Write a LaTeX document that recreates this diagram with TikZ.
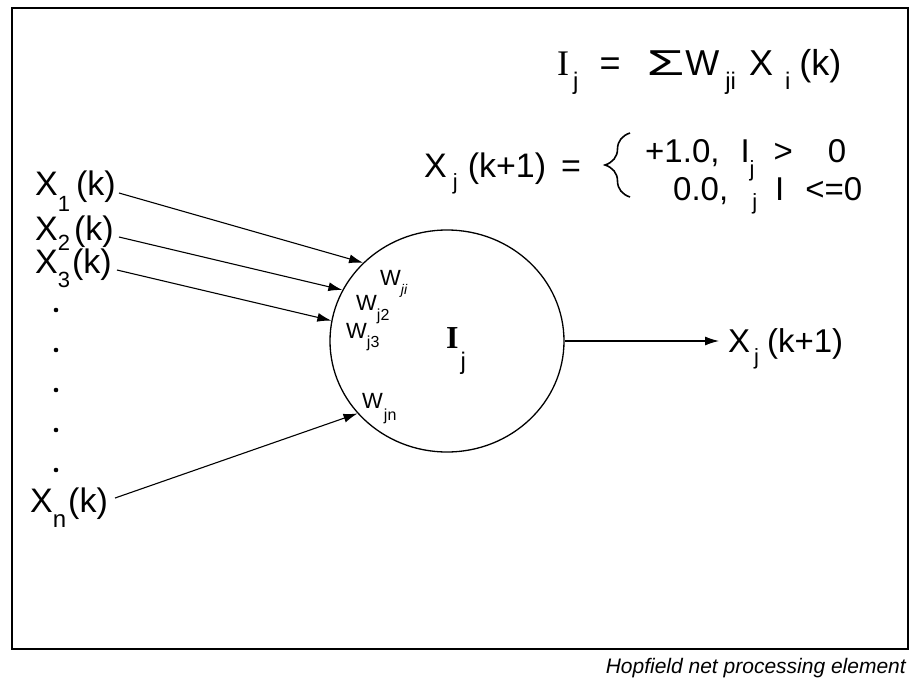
\documentclass[tikz,border=0pt]{standalone}
\usepackage{fontspec}
\setmainfont{Liberation Sans}
\newfontfamily\serifbold{Liberation Serif}
\usetikzlibrary{shapes.geometric,arrows.meta,decorations.pathreplacing}

%lowered subscript: [size]{drop}{text}
\newcommand\dn[3][24]{\raisebox{-#2}{\fontsize{#1}{#1}\selectfont #3}}

\tikzstyle{input} = [anchor=base west, inner sep=0pt, font=\fontsize{34}{36}\selectfont]
\tikzstyle{formula} = [anchor=base west, inner sep=0pt, font=\fontsize{33}{36}\selectfont]
\tikzstyle{weight} = [anchor=base west, inner sep=0pt, font=\fontsize{22}{24}\selectfont]
\tikzstyle{neuron} = [ellipse, draw, line width=1.3pt, minimum width=234pt, minimum height=222pt, inner sep=0pt]
\tikzstyle{arrow} = [line width=1.1pt,-{Latex[length=14pt,width=9pt]},draw]

\begin{document}
\begin{tikzpicture}[x=1pt,y=-1pt]
\useasboundingbox (0,0) rectangle (916,688);

	%Frame and caption
	\draw[line width=1.8pt] (12,8) rectangle (908,649);
	\node[anchor=base east, inner sep=0pt, font=\fontsize{21}{23}\selectfont\itshape](caption) at (906,673) {Hopfield net processing element};

	%Processing element
	\node[neuron](pe) at (447,341) {};
	\node[anchor=base west, inner sep=0pt, font=\fontsize{32}{34}\selectfont](Ij) at (446,348) {{\serifbold\bfseries I}\hspace{2pt}\dn{21pt}{j}};

	%Inputs
	\node[input](x1) at (35,195) {X\dn[22]{16pt}{1}\hspace{6pt}(k)};
	\node[input](x2) at (35,240) {X\dn[22]{10pt}{2}\hspace{4pt}(k)};
	\node[input](x3) at (35,273) {X\dn[22]{14pt}{3}\hspace{2pt}(k)};
	\node[input](xn) at (30,512) {X\dn{15pt}{n}\hspace{2pt}(k)};
	\foreach \y in {310,350,...,470}
		\fill (56,\y) circle (2.3pt);

	%Weights
	\node[weight](wji) at (380,285) {W\hspace{0pt}\dn[14]{9pt}{\itshape ji}};
	\node[weight](wj2) at (356,310) {W\hspace{0pt}\dn[16]{10pt}{j2}};
	\node[weight](wj3) at (346,338) {W\hspace{0pt}\dn[16]{9pt}{j3}};
	\node[weight](wjn) at (362,408) {W\hspace{1pt}\dn[16]{12pt}{jn}};

	%Arrows into and out of the element
	\path[arrow] ([xshift=3pt,yshift=2pt]x1.base east) -- (pe.137.2);
	\path[arrow] ([xshift=5pt,yshift=3pt]x2.base east) -- (pe.154.8);
	\path[arrow] ([xshift=5pt,yshift=3pt]x3.base east) -- (pe.170.4);
	\path[arrow] ([xshift=7pt,yshift=14pt]xn.base east) -- (pe.219.7);

	\node[formula](xout) at (728,352) {X\hspace{4pt}\dn[22]{12pt}{j}\hspace{8pt}(k+1)};
	\path[arrow] (pe.east) -- ([xshift=-9pt]pe.east -| xout.west);

	%Formulas
	\node[formula, font=\fontsize{36}{38}\selectfont](sum) at (557,75) {{\serifbold I}\hspace{4pt}\dn[24]{14pt}{j}\hspace{21pt}=\hspace{26pt}\scalebox{1.7}[1]{Σ}\hspace{1pt}W\hspace{6pt}\dn[24]{14pt}{ji}\hspace{13pt}X\hspace{12pt}\dn[24]{14pt}{i}\hspace{9pt}(k)};
	\node[formula, font=\fontsize{34}{36}\selectfont](rule) at (424,177) {X\hspace{6pt}\dn[22]{12pt}{j}\hspace{10pt}(k+1)\hspace{15pt}=};
	\node[formula](case1) at (645,162) {+1.0,\hspace{21pt}I\dn[22]{14pt}{j}\hspace{19pt}>\hspace{35pt}0};
	\node[formula](case2) at (673,200) {0.0,\hspace{24pt}\dn[22]{9pt}{j}\hspace{18pt}I\hspace{21pt}<=0};
	\coordinate (braceTop) at (630,133);
	\coordinate (braceBot) at (630,197);
	\draw[line width=1.6pt, decorate, decoration={brace, amplitude=25pt}] (braceBot) -- (braceTop);
\end{tikzpicture}
\end{document}
